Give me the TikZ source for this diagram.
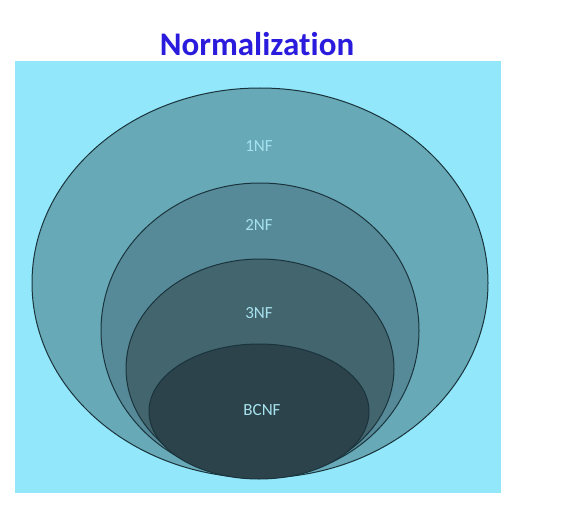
\documentclass[tikz,border=0pt]{standalone}
\usepackage{fontspec}
\setmainfont[Ligatures=NoCommon]{Carlito}
\definecolor{bgcyan}{HTML}{93E7FA}
\definecolor{nfone}{HTML}{67A9B7}
\definecolor{nftwo}{HTML}{578A98}
\definecolor{nfthree}{HTML}{43656E}
\definecolor{nfbc}{HTML}{2D434B}
\definecolor{edgec}{HTML}{1A343D}
\definecolor{labc}{HTML}{A6E2EE}
\definecolor{titlec}{HTML}{2B1CDD}
\begin{document}
\begin{tikzpicture}[x=1pt,y=-1pt,
  level/.style={draw=edgec,line width=1pt},
  lab/.style={text=labc,font=\fontsize{17}{18}\selectfont,inner sep=0pt}]
\useasboundingbox (0,0) rectangle (575,516);
\fill[white] (0,0) rectangle (575,516);
\node[text=titlec,font=\fontsize{33}{36}\selectfont\bfseries,inner sep=0pt,anchor=base] (title) at (257,56) {Normalization};
\fill[bgcyan] (15,61) rectangle (501,493);
\filldraw[level,fill=nfone] (260,283) ellipse [x radius=228, y radius=195];
\filldraw[level,fill=nftwo] (260,330.5) ellipse [x radius=159, y radius=147.5];
\filldraw[level,fill=nfthree] (260,368.5) ellipse [x radius=134, y radius=109.5];
\filldraw[level,fill=nfbc] (259,411.5) ellipse [x radius=110, y radius=67.5];
\node[lab] (l1) at (259,146) {1NF};
\node[lab] (l2) at (259,225) {2NF};
\node[lab] (l3) at (259,313) {3NF};
\node[lab] (l4) at (262,410) {BCNF};
\end{tikzpicture}
\end{document}
